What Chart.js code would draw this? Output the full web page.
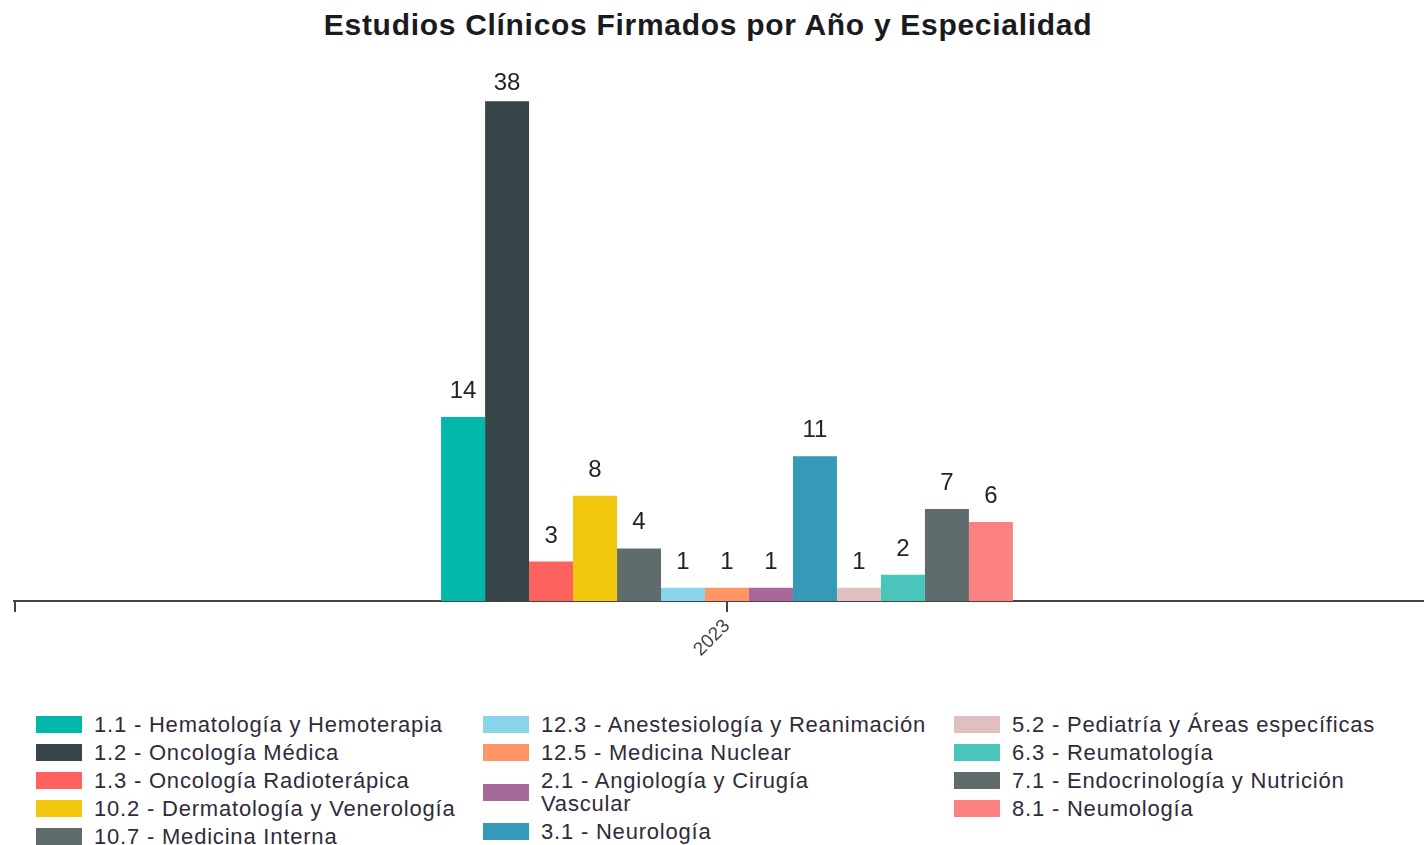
<!DOCTYPE html>
<html>
<head>
<meta charset="utf-8">
<script src="https://cdn.jsdelivr.net/npm/chart.js@4/dist/chart.umd.min.js"></script>
<style>
  html, body { margin: 0; padding: 0; background: #fff; overflow: hidden; }
  body { width: 1424px; height: 845px; position: relative; font-family: "Liberation Sans", Arial, sans-serif; }
  #title { position: absolute; left: 0; top: 8px; width: 1416px; text-align: center; font-weight: bold; font-size: 30px; letter-spacing: 0.7px; color: #1b1b1f; }
  #wrap { position: absolute; left: 0; top: 0; width: 1440px; height: 670px; }
  #legend { position: absolute; top: 713px; left: 0; width: 1424px; }
  .col { position: absolute; top: 0; }
  .item { display: flex; align-items: center; margin-bottom: 5px; }
  .box { width: 46px; height: 17px; flex: none; margin-right: 12px; }
  .txt { font-size: 22px; letter-spacing: 0.8px; line-height: 23px; color: #2f2b3a; white-space: nowrap; }
</style>
</head>
<body>
<div id="title">Estudios Clínicos Firmados por Año y Especialidad</div>
<div id="wrap"><canvas id="chart"></canvas></div>
<div id="legend"></div>
<script>
const years = ['2023'];
const specialties = [
  '1.1 - Hematología y Hemoterapia',
  '1.2 - Oncología Médica',
  '1.3 - Oncología Radioterápica',
  '10.2 - Dermatología y Venerología',
  '10.7 - Medicina Interna',
  '12.3 - Anestesiología y Reanimación',
  '12.5 - Medicina Nuclear',
  ['2.1 - Angiología y Cirugía', 'Vascular'],
  '3.1 - Neurología',
  '5.2 - Pediatría y Áreas específicas',
  '6.3 - Reumatología',
  '7.1 - Endocrinología y Nutrición',
  '8.1 - Neumología'
];
const counts = [14, 38, 3, 8, 4, 1, 1, 1, 11, 1, 2, 7, 6];
const colors = ['#01B8AA', '#374649', '#FD625E', '#F2C80F', '#5F6B6D', '#8AD4EB', '#FE9666',
                '#A66999', '#3599B8', '#DFBFBF', '#4AC5BB', '#5F6B6D', '#FB8281'];
const legendColumns = [[0, 1, 2, 3, 4], [5, 6, 7, 8], [9, 10, 11, 12]];
const legendX = [36, 483, 954];

// value above each bar, kept inside the plot area at the top
const valueLabels = {
    id: 'valueLabels',
    afterDatasetsDraw(chart) {
        const ctx = chart.ctx;
        ctx.save();
        ctx.font = '24px "Liberation Sans", Arial, sans-serif';
        ctx.fillStyle = '#252423';
        ctx.textAlign = 'center';
        ctx.textBaseline = 'alphabetic';
        chart.data.datasets.forEach((ds, i) => {
            chart.getDatasetMeta(i).data.forEach((bar, j) => {
                const y = Math.max(bar.y - 19, chart.chartArea.top + 15);
                ctx.fillText(String(ds.data[j]), bar.x, y);
            });
        });
        ctx.restore();
    }
};

// short tick at the left end of the x axis
const edgeTick = {
    id: 'edgeTick',
    afterDraw(chart) {
        const ctx = chart.ctx;
        const a = chart.chartArea;
        ctx.save();
        ctx.strokeStyle = '#444';
        ctx.lineWidth = 2;
        ctx.beginPath();
        ctx.moveTo(a.left + 1, a.bottom);
        ctx.lineTo(a.left + 1, a.bottom + 11);
        ctx.stroke();
        ctx.restore();
    }
};

const chart = new Chart(document.getElementById('chart'), {
    type: 'bar',
    data: {
        labels: years,
        datasets: specialties.map((name, i) => ({
            label: name,
            data: [counts[i]],
            backgroundColor: colors[i],
            borderWidth: 0
        }))
    },
    options: {
        responsive: true,
        maintainAspectRatio: false,
        animation: false,
        categoryPercentage: 0.401,
        barPercentage: 1.0,
        layout: {padding: {left: 14, right: 0, top: 75, bottom: 6}},
        scales: {
            x: {
                grid: {offset: false, drawOnChartArea: false, drawTicks: true, tickLength: 11, color: '#444', lineWidth: 2},
                border: {display: true, color: '#444', width: 2},
                ticks: {color: '#444', font: {size: 19, family: '"Liberation Sans", Arial, sans-serif'}, maxRotation: 45, minRotation: 45, padding: 3}
            },
            y: {display: false, min: 0, max: 40}
        },
        plugins: {
            legend: {display: false},
            tooltip: {enabled: false}
        }
    },
    plugins: [valueLabels, edgeTick]
});

// legend in columns, built from the chart datasets
const legend = document.getElementById('legend');
legendColumns.forEach((idxs, c) => {
    const col = document.createElement('div');
    col.className = 'col';
    col.style.left = legendX[c] + 'px';
    idxs.forEach(i => {
        const ds = chart.data.datasets[i];
        const item = document.createElement('div');
        item.className = 'item';
        const box = document.createElement('span');
        box.className = 'box';
        box.style.background = ds.backgroundColor;
        const txt = document.createElement('span');
        txt.className = 'txt';
        txt.innerHTML = [].concat(ds.label).join('<br>');
        item.appendChild(box);
        item.appendChild(txt);
        col.appendChild(item);
    });
    legend.appendChild(col);
});
</script>
</body>
</html>
